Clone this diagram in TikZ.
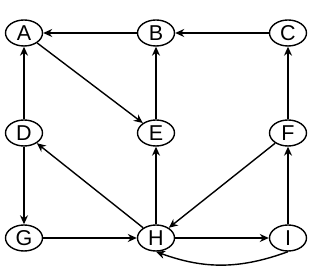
\documentclass[tikz,border=0pt]{standalone}
\usepackage{fontspec}
\setmainfont{Liberation Sans}
\usetikzlibrary{shapes.geometric, arrows.meta, positioning}
\tikzset{
  vertex/.style={ellipse, draw=black, fill=white, minimum width=37pt,
    minimum height=26pt, inner sep=0pt, line width=1.4pt, font=\fontsize{21.5}{21.5}\selectfont},
  arrow/.style={-{Stealth[length=9pt, width=8pt]}, line width=1.4pt, color=black}
}
\begin{document}
\begin{tikzpicture}[x=1pt, y=1pt]
  \useasboundingbox (0,0) rectangle (319,280);
  % Top row
  \node[vertex] (A) at (24,247) {A};
  \node[vertex] (B) at (156,247) {B};
  \node[vertex] (C) at (288,247) {C};
  % Middle row
  \node[vertex] (D) at (24,147) {D};
  \node[vertex] (E) at (156,147) {E};
  \node[vertex] (F) at (288,147) {F};
  % Bottom row
  \node[vertex] (G) at (24,42) {G};
  \node[vertex] (H) at (156,42) {H};
  \node[vertex] (I) at (288,42) {I};
  % Arrows
  \draw[arrow] (B) -- (A);
  \draw[arrow] (C) -- (B);
  \draw[arrow] (A) -- (E);
  \draw[arrow] (E) -- (B);
  \draw[arrow] (D) -- (A);
  \draw[arrow] (F) -- (C);
  \draw[arrow] (D) -- (G);
  \draw[arrow] (H) -- (D);
  \draw[arrow] (H) -- (E);
  \draw[arrow] (F) -- (H);
  \draw[arrow] (I) -- (F);
  \draw[arrow] (G) -- (H);
  \draw[arrow] (H) -- (I);
  \draw[arrow] (I.south) to[bend left=20] (H.south);
\end{tikzpicture}
\end{document}
